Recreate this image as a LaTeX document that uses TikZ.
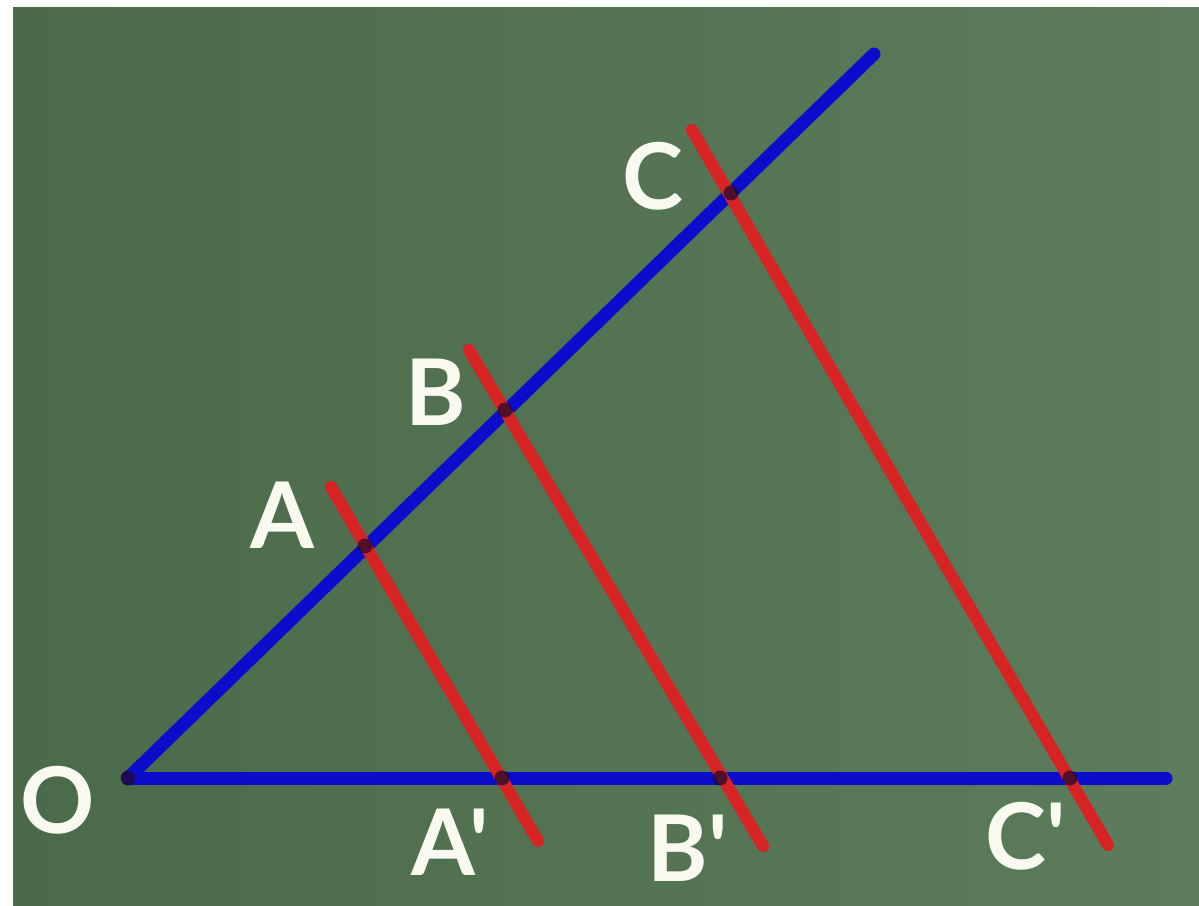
\documentclass[tikz,border=0pt]{standalone}
\usepackage{fontspec}
\newfontfamily\lblfont{Lato}
\begin{document}
\begin{tikzpicture}[x=1pt,y=-1pt,
  blueline/.style={draw={rgb,255:red,12;green,12;blue,205},line width=13pt,line cap=round},
  redline/.style={draw={rgb,255:red,215;green,35;blue,35},line width=12pt,line cap=round},
  crossdot/.style={circle,fill={rgb,255:red,35;green,10;blue,45},fill opacity=0.75,inner sep=0pt,minimum size=15pt},
  lbl/.style={text={rgb,255:red,248;green,250;blue,240},font=\lblfont\fontsize{92}{92}\selectfont\bfseries,inner sep=0pt,anchor=center}]
\useasboundingbox (0,0) rectangle (1199,905);
\fill[white] (0,0) rectangle (1199,905);
\shade[left color={rgb,255:red,74;green,106;blue,74},right color={rgb,255:red,92;green,124;blue,92}] (13,7) rectangle (1199,905);
% points
\coordinate (O) at (128,778);
\coordinate (Top) at (874,54);
\coordinate (Right) at (1166,778);
\coordinate (A) at (365,546);
\coordinate (B) at (505,410);
\coordinate (C) at (731,193);
\coordinate (A1) at (502,778);
\coordinate (B1) at (720,778);
\coordinate (C1) at (1070,778);
\coordinate (ra) at (331,487);
\coordinate (ra2) at (538,841);
\coordinate (rb) at (469,350);
\coordinate (rb2) at (763,846);
\coordinate (rc) at (692,130);
\coordinate (rc2) at (1108,845);
% blue rays
\draw[blueline] (O) -- (Top);
\draw[blueline] (O) -- (Right);
% red parallels
\draw[redline] (ra) -- (ra2);
\draw[redline] (rb) -- (rb2);
\draw[redline] (rc) -- (rc2);
% crossing marks
\foreach \p in {O,A,B,C,A1,B1,C1} \node[crossdot] at (\p) {};
% labels
\node[lbl] (lO) at (58,800) {O};
\node[lbl] (lA) at (282,515) {A};
\node[lbl] (lB) at (436,392) {B};
\node[lbl] (lC) at (653,176) {C};
\node[lbl] (lA1) at (450,842) {A'};
\node[lbl] (lB1) at (688,848) {B'};
\node[lbl] (lC1) at (1026,836) {C'};
\end{tikzpicture}
\end{document}
